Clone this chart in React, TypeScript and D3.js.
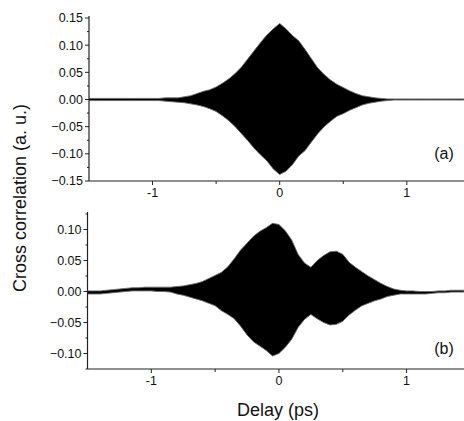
import React from "react";
import * as d3 from "d3";

// Delay grid (ps), read at 0.05 ps spacing
const delay = [
  -1.5, -1.45, -1.4, -1.35, -1.3, -1.25, -1.2, -1.15, -1.1, -1.05,
  -1.0, -0.95, -0.9, -0.85, -0.8, -0.75, -0.7, -0.65, -0.6, -0.55,
  -0.5, -0.45, -0.4, -0.35, -0.3, -0.25, -0.2, -0.15, -0.1, -0.05,
  0.0, 0.05, 0.1, 0.15, 0.2, 0.25, 0.3, 0.35, 0.4, 0.45,
  0.5, 0.55, 0.6, 0.65, 0.7, 0.75, 0.8, 0.85, 0.9, 0.95,
  1.0, 1.05, 1.1, 1.15, 1.2, 1.25, 1.3, 1.35, 1.4, 1.45,
];

// Panel (a): upper / lower envelope of the fringes
const aUpper = [
  0.002, 0.002, 0.002, 0.002, 0.002, 0.002, 0.002, 0.002, 0.002, 0.002,
  0.002, 0.002, 0.003, 0.003, 0.003, 0.005, 0.007, 0.011, 0.015, 0.018,
  0.023, 0.03, 0.038, 0.048, 0.06, 0.075, 0.09, 0.105, 0.119, 0.13,
  0.14, 0.13, 0.118, 0.108, 0.092, 0.075, 0.058, 0.046, 0.036, 0.028,
  0.022, 0.016, 0.011, 0.007, 0.005, 0.003, 0.002, 0.001, 0.001, 0.001,
  0.001, 0.001, 0.001, 0.001, 0.001, 0.001, 0.001, 0.001, 0.001, 0.001,
];
const aLower = [
  -0.002, -0.002, -0.002, -0.002, -0.002, -0.002, -0.002, -0.002, -0.002, -0.002,
  -0.002, -0.002, -0.003, -0.004, -0.005, -0.006, -0.008, -0.01, -0.013, -0.017,
  -0.022, -0.03, -0.039, -0.05, -0.063, -0.076, -0.09, -0.102, -0.113, -0.128,
  -0.138, -0.132, -0.12, -0.104, -0.094, -0.078, -0.063, -0.05, -0.04, -0.031,
  -0.026, -0.02, -0.015, -0.01, -0.007, -0.005, -0.003, -0.002, -0.001, -0.001,
  -0.001, -0.001, -0.001, -0.001, -0.001, -0.001, -0.001, -0.001, -0.001, -0.001,
];

// Panel (b): upper / lower envelope
const bUpper = [
  0.001, 0.001, 0.001, 0.002, 0.003, 0.004, 0.005, 0.006, 0.006, 0.007,
  0.007, 0.007, 0.007, 0.007, 0.008, 0.009, 0.011, 0.013, 0.016, 0.021,
  0.026, 0.031, 0.04, 0.053, 0.067, 0.078, 0.089, 0.097, 0.103, 0.11,
  0.108, 0.098, 0.083, 0.06, 0.046, 0.039, 0.05, 0.058, 0.064, 0.065,
  0.06, 0.047, 0.039, 0.032, 0.025, 0.019, 0.013, 0.008, 0.004, 0.002,
  0.001, 0.001, 0.0, 0.0, 0.0, 0.001, 0.001, 0.002, 0.002, 0.002,
];
const bLower = [
  -0.004, -0.004, -0.004, -0.003, -0.002, -0.001, 0.0, 0.001, 0.001, 0.001,
  0.001, 0.0, 0.0, -0.001, -0.004, -0.006, -0.009, -0.012, -0.015, -0.019,
  -0.023, -0.031, -0.037, -0.044, -0.056, -0.07, -0.081, -0.088, -0.095, -0.104,
  -0.1, -0.09, -0.077, -0.058, -0.045, -0.037, -0.044, -0.05, -0.054, -0.053,
  -0.048, -0.038, -0.03, -0.023, -0.019, -0.015, -0.012, -0.008, -0.006, -0.004,
  -0.004, -0.004, -0.004, -0.004, -0.003, -0.002, -0.002, -0.001, -0.001, -0.001,
];

const xTicks = [-1, 0, 1];
const xMinor = [-0.5, 0.5];
const aYTicks = [0.15, 0.1, 0.05, 0.0, -0.05, -0.1, -0.15];
const bYTicks = [0.1, 0.05, 0.0, -0.05, -0.1];
const panelLabels = ["(a)", "(b)"];

const W = 464;
const H = 421;
const FONT = "Liberation Sans, Arial, Helvetica, sans-serif";

type PanelProps = {
  upper: number[];
  lower: number[];
  yDomain: [number, number];
  yTicks: number[];
  left: number;
  top: number;
  bottom: number;
  label: string;
  labelY: number;
  id: string;
};

function Panel({ upper, lower, yDomain, yTicks, left, top, bottom, label, labelY, id }: PanelProps) {
  const x = d3.scaleLinear().domain([-1.5, 1.45]).range([left, W]);
  const y = d3.scaleLinear().domain(yDomain).range([bottom, top]);
  const rows = delay.map((d, i) => ({ d, u: upper[i], l: lower[i] }));
  const area = d3
    .area<{ d: number; u: number; l: number }>()
    .x((r) => x(r.d))
    .y0((r) => y(r.l))
    .y1((r) => y(r.u))
    .curve(d3.curveLinear);
  const minorY: number[] = [];
  for (let i = 0; i < yTicks.length - 1; i++) minorY.push((yTicks[i] + yTicks[i + 1]) / 2);
  if (yDomain[1] > yTicks[0] + 1e-9) minorY.push(yTicks[0] + 0.025);
  if (yDomain[0] < yTicks[yTicks.length - 1] - 1e-9) minorY.push(yTicks[yTicks.length - 1] - 0.025);
  const fmt = d3.format(".2f");
  return (
    <g>
      <defs>
        <clipPath id={id}>
          <rect x={left} y={top - 2} width={W - left} height={bottom - top + 2} />
        </clipPath>
      </defs>
      <path d={area(rows) || ""} fill="#000" stroke="#6a6a6a" strokeWidth={0.9} strokeLinejoin="miter" clipPath={`url(#${id})`} />
      {/* axes */}
      <line x1={left} x2={left} y1={top - 2} y2={bottom} stroke="#222" strokeWidth={1.2} />
      <line x1={left} x2={W} y1={bottom} y2={bottom} stroke="#222" strokeWidth={1.2} />
      {yTicks.map((t) => (
        <g key={"y" + t}>
          <line x1={left - 4} x2={left} y1={y(t)} y2={y(t)} stroke="#222" strokeWidth={1} />
          <text x={left - 6} y={y(t)} dy="0.35em" textAnchor="end" fontSize={12.5} fontFamily={FONT} fill="#111">
            {fmt(t)}
          </text>
        </g>
      ))}
      {minorY.map((t) => (
        <line key={"ym" + t} x1={left - 2} x2={left} y1={y(t)} y2={y(t)} stroke="#222" strokeWidth={1} />
      ))}
      {xTicks.map((t) => (
        <g key={"x" + t}>
          <line x1={x(t)} x2={x(t)} y1={bottom} y2={bottom + 4} stroke="#222" strokeWidth={1} />
          <text x={x(t)} y={bottom + 16} textAnchor="middle" fontSize={12.5} fontFamily={FONT} fill="#111">
            {t}
          </text>
        </g>
      ))}
      {xMinor.map((t) => (
        <line key={"xm" + t} x1={x(t)} x2={x(t)} y1={bottom} y2={bottom + 3} stroke="#222" strokeWidth={1} />
      ))}
      <text x={444} y={labelY} textAnchor="middle" fontSize={16} fontFamily={FONT} fill="#111">
        {label}
      </text>
    </g>
  );
}

export default function App() {
  return (
    <svg
      width={W}
      height={H}
      style={{ position: "absolute", left: 0, top: 0, background: "#fff" }}
      xmlns="http://www.w3.org/2000/svg"
    >
      <rect width={W} height={H} fill="#fff" />
      <Panel
        upper={aUpper}
        lower={aLower}
        yDomain={[-0.15, 0.15]}
        yTicks={aYTicks}
        left={89}
        top={18}
        bottom={181}
        label={panelLabels[0]}
        labelY={159}
        id="clipA"
      />
      <Panel
        upper={bUpper}
        lower={bLower}
        yDomain={[-0.125, 0.125]}
        yTicks={bYTicks}
        left={87.5}
        top={214}
        bottom={369}
        label={panelLabels[1]}
        labelY={354}
        id="clipB"
      />
      <text
        transform="translate(26,198) rotate(-90)"
        textAnchor="middle"
        fontSize={18}
        fontFamily={FONT}
        fill="#111"
      >
        Cross correlation (a. u.)
      </text>
      <text x={278} y={416} textAnchor="middle" fontSize={18} fontFamily={FONT} fill="#111">
        Delay (ps)
      </text>
    </svg>
  );
}
